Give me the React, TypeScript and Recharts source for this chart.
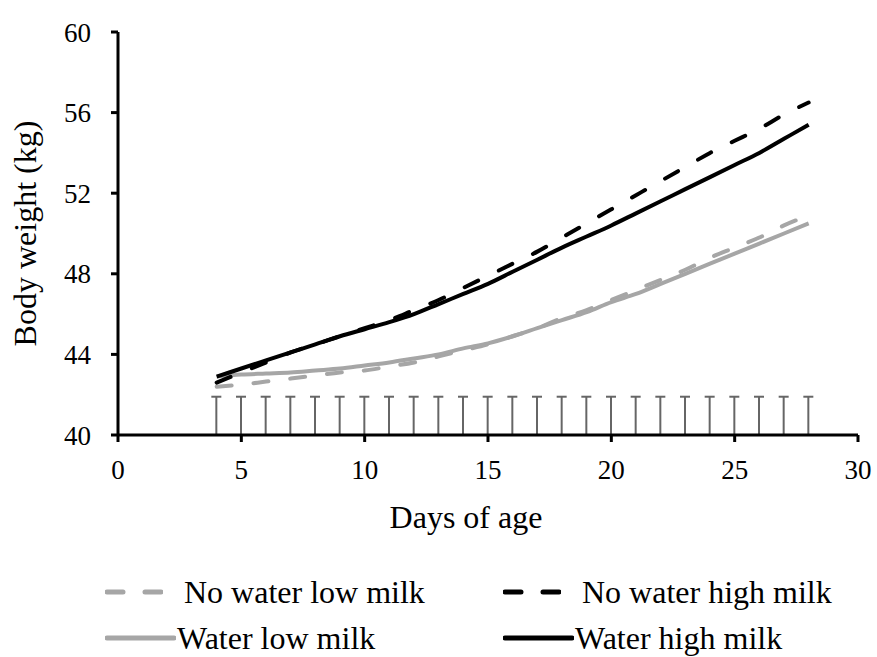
import React from 'react';
import { ComposedChart, Line, Bar, XAxis, YAxis, Label } from 'recharts';

const FONT = "'Liberation Serif', Tinos, 'Times New Roman', 'DejaVu Serif', serif";
const GREY = '#a6a6a6';

const days = [4, 5, 6, 7, 8, 9, 10, 11, 12, 13, 14, 15, 16, 17, 18, 19, 20, 21, 22, 23, 24, 25, 26, 27, 28];
const noWaterLowMilk = [42.4, 42.5, 42.65, 42.8, 42.95, 43.1, 43.2, 43.4, 43.6, 43.9, 44.2, 44.5, 44.9, 45.3, 45.8, 46.2, 46.7, 47.2, 47.7, 48.2, 48.8, 49.3, 49.8, 50.4, 50.9];
const noWaterHighMilk = [42.6, 43.1, 43.6, 44.1, 44.5, 44.9, 45.3, 45.7, 46.2, 46.7, 47.3, 47.9, 48.5, 49.1, 49.8, 50.5, 51.2, 51.9, 52.6, 53.3, 54.0, 54.6, 55.2, 55.9, 56.5];
const waterLowMilk = [42.9, 43.0, 43.05, 43.1, 43.2, 43.3, 43.45, 43.6, 43.8, 44.0, 44.3, 44.55, 44.9, 45.3, 45.7, 46.1, 46.6, 47.0, 47.5, 48.0, 48.5, 49.0, 49.5, 50.0, 50.5];
const waterHighMilk = [42.9, 43.3, 43.7, 44.1, 44.5, 44.9, 45.25, 45.6, 46.0, 46.5, 47.0, 47.5, 48.1, 48.7, 49.3, 49.85, 50.4, 51.0, 51.6, 52.2, 52.8, 53.4, 54.0, 54.7, 55.4];
// top of the SE bars drawn above the x axis
const seTop = [41.9, 41.9, 41.9, 41.9, 41.9, 41.9, 41.9, 41.9, 41.9, 41.9, 41.9, 41.9, 41.9, 41.9, 41.9, 41.9, 41.9, 41.9, 41.9, 41.9, 41.9, 41.9, 41.9, 41.9, 41.9];

const xTicks = [0, 5, 10, 15, 20, 25, 30];
const yTicks = [40, 44, 48, 52, 56, 60];

const data = days.map((day, i) => ({
  day,
  noWaterLow: noWaterLowMilk[i],
  noWaterHigh: noWaterHighMilk[i],
  waterLow: waterLowMilk[i],
  waterHigh: waterHighMilk[i],
  se: seTop[i],
}));

const legendItems = [
  { name: 'No water low milk', color: GREY, dashed: true },
  { name: 'No water high milk', color: '#000', dashed: true },
  { name: 'Water low milk', color: GREY, dashed: false },
  { name: 'Water high milk', color: '#000', dashed: false },
];

// error bar drawn as a thin line with a cap at the top
const SeBar = (props: any) => {
  const { x, y, width, height } = props;
  const cx = x + width / 2;
  return (
    <g>
      <line x1={cx} x2={cx} y1={y} y2={y + height} stroke="#666" strokeWidth={2} />
      <line x1={cx - 5} x2={cx + 5} y1={y} y2={y} stroke="#666" strokeWidth={2} />
    </g>
  );
};

const LegendBox = () => (
  <div style={{ position: 'absolute', left: 0, top: 570, width: 877, height: 87, fontFamily: FONT, fontSize: 32, color: '#000' }}>
    {legendItems.map((item, i) => {
      const col = i % 2;
      const row = Math.floor(i / 2);
      const left = col === 0 ? 105 : 503;
      const top = row === 0 ? 4 : 50;
      const iconW = item.dashed ? 58 : 71;
      return (
        <div key={item.name} style={{ position: 'absolute', left, top, display: 'flex', alignItems: 'center', whiteSpace: 'nowrap', lineHeight: '36px' }}>
          <svg width={iconW} height={10} style={{ marginRight: item.dashed ? 21 : 1 }}>
            <line
              x1={2}
              x2={iconW - 2}
              y1={5}
              y2={5}
              stroke={item.color}
              strokeWidth={5}
              strokeLinecap="round"
              strokeDasharray={item.dashed ? '16 22' : undefined}
            />
          </svg>
          <span>{item.name}</span>
        </div>
      );
    })}
  </div>
);

export default function App() {
  return (
    <div style={{ position: 'absolute', left: 0, top: 0, width: 877, height: 657, background: '#fff', fontFamily: FONT }}>
      <ComposedChart width={877} height={657} data={data} margin={{ top: 32, right: 19, left: 0, bottom: 0 }} style={{ fontFamily: FONT }}>
        <XAxis
          type="number"
          dataKey="day"
          domain={[0, 30]}
          ticks={xTicks}
          interval={0}
          axisLine={{ stroke: '#000', strokeWidth: 3 }}
          tickLine={{ stroke: '#000', strokeWidth: 3 }}
          tickSize={7}
          tickMargin={18}
          tick={{ fontSize: 27, fill: '#000', fontFamily: FONT }}
          height={222}
        >
          <Label
            content={(p: any) => {
              const vb = p.viewBox;
              return (
                <text x={vb.x + vb.width / 2 - 22} y={vb.y + 93} textAnchor="middle" fontSize={32} fontFamily={FONT} fill="#000">
                  Days of age
                </text>
              );
            }}
          />
        </XAxis>
        <YAxis
          type="number"
          domain={[40, 60]}
          ticks={yTicks}
          interval={0}
          axisLine={{ stroke: '#000', strokeWidth: 3 }}
          tickLine={{ stroke: '#000', strokeWidth: 3 }}
          tickSize={7}
          tickMargin={20}
          tick={{ fontSize: 27, fill: '#000', fontFamily: FONT }}
          width={118}
        >
          <Label
            content={(p: any) => {
              const vb = p.viewBox;
              const cx = vb.x + 25;
              const cy = vb.y + vb.height / 2;
              return (
                <text x={cx} y={cy} transform={`rotate(-90 ${cx} ${cy})`} textAnchor="middle" dominantBaseline="central" fontSize={32} fontFamily={FONT} fill="#000">
                  Body weight (kg)
                </text>
              );
            }}
          />
        </YAxis>
        <Bar dataKey="se" barSize={10} shape={SeBar} isAnimationActive={false} />
        <Line type="monotone" dataKey="noWaterLow" stroke={GREY} strokeWidth={4} strokeDasharray="15 22" strokeLinecap="round" dot={false} isAnimationActive={false} />
        <Line type="monotone" dataKey="waterLow" stroke={GREY} strokeWidth={4} dot={false} isAnimationActive={false} />
        <Line type="monotone" dataKey="noWaterHigh" stroke="#000" strokeWidth={4} strokeDasharray="15 23" strokeLinecap="round" dot={false} isAnimationActive={false} />
        <Line type="monotone" dataKey="waterHigh" stroke="#000" strokeWidth={4} dot={false} isAnimationActive={false} />
      </ComposedChart>
      <LegendBox />
    </div>
  );
}
